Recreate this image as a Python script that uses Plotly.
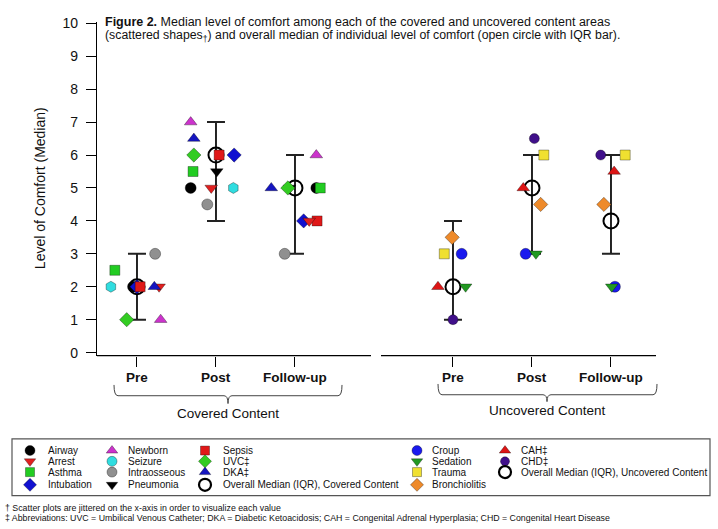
import plotly.graph_objects as go

# ---------------- DATA ----------------
# x positions are the jittered category positions (1,2,3 = covered Pre/Post/Follow-up;
# 5,6,7 = uncovered Pre/Post/Follow-up); y = median level of comfort
tick_vals = [1, 2, 3, 5, 6, 7]
tick_text = ["Pre", "Post", "Follow-up", "Pre", "Post", "Follow-up"]

# covered content areas
pneumonia_x = [1.00, 2.01, 2.93]
pneumonia_y = [2, 5.5, 5]
airway_x = [0.95, 1.68, 3.27]
airway_y = [2, 5, 5]
intubation_x = [1.00, 2.23, 3.11]
intubation_y = [2, 6, 4]
sepsis_x = [1.04, 2.04, 3.28]
sepsis_y = [2, 6, 4]
arrest_x = [1.28, 1.94, 3.18]
arrest_y = [2, 5, 4]
asthma_x = [0.72, 1.71, 3.32]
asthma_y = [2.5, 5.5, 5]
newborn_x = [1.30, 1.68, 3.27]
newborn_y = [1, 7, 6]
seizure_x = [0.67, 2.22]
seizure_y = [2, 5]
intraosseous_x = [1.23, 1.89, 2.87]
intraosseous_y = [3, 4.5, 3]
uvc_x = [0.87, 1.72, 2.91]
uvc_y = [1, 6, 5]
dka_x = [1.22, 1.72, 2.70]
dka_y = [2, 6.5, 5]

# uncovered content areas
croup_x = [5.11, 5.92, 7.05]
croup_y = [3, 3, 2]
sedation_x = [5.16, 6.05, 7.01]
sedation_y = [2, 3, 2]
trauma_x = [4.89, 6.15, 7.18]
trauma_y = [3, 6, 6]
bronchiolitis_x = [4.99, 6.11, 6.91]
bronchiolitis_y = [3.5, 4.5, 4.5]
cah_x = [4.81, 5.89, 7.04]
cah_y = [2, 5, 5.5]
chd_x = [5.00, 6.03, 6.87]
chd_y = [1, 6.5, 6]

# overall medians with IQR
cov_x = [1, 2, 3]
cov_median = [2, 6, 5]
cov_q1 = [1, 4, 3]
cov_q3 = [3, 7, 6]
unc_x = [5, 6, 7]
unc_median = [2, 5, 4]
unc_q1 = [1, 3, 3]
unc_q3 = [4, 6, 6]

# ---------------- STYLE / LAYOUT ----------------
W, H = 718, 529
PL, PR, PT, PB = 97, 656, 16, 357          # plot box in pixels
FONT = "Liberation Sans, Arial, sans-serif"
OUT = dict(color="rgba(0,0,0,0.55)", width=0.6)

def fx(p):  # pixel x -> paper
    return p / W

def fy(p):  # pixel y -> paper
    return 1 - p / H

series = [
    # name, x, y, symbol, color, size
    ("Pneumonia", pneumonia_x, pneumonia_y, "triangle-down", "#000000", 11),
    ("Airway", airway_x, airway_y, "circle", "#000000", 11),
    ("Intubation", intubation_x, intubation_y, "diamond", "#1010d0", 11),
    ("Sepsis", sepsis_x, sepsis_y, "square", "#e01818", 10),
    ("Arrest", arrest_x, arrest_y, "triangle-down", "#e02020", 11),
    ("Asthma", asthma_x, asthma_y, "square", "#22cc22", 10),
    ("Newborn", newborn_x, newborn_y, "triangle-up", "#cc33cc", 11),
    ("Seizure", seizure_x, seizure_y, "hexagon", "#30dde0", 11),
    ("Intraosseous", intraosseous_x, intraosseous_y, "circle", "#909090", 11),
    ("UVC‡", uvc_x, uvc_y, "diamond", "#33cc22", 11),
    ("DKA‡", dka_x, dka_y, "triangle-up", "#1515c0", 11),
    ("Croup", croup_x, croup_y, "circle", "#1a1aee", 11),
    ("Sedation", sedation_x, sedation_y, "triangle-down", "#229922", 11),
    ("Trauma", trauma_x, trauma_y, "square", "#f0e030", 10),
    ("Bronchiolitis", bronchiolitis_x, bronchiolitis_y, "diamond", "#ee8a2a", 11),
    ("CAH‡", cah_x, cah_y, "triangle-up", "#dd1515", 11),
    ("CHD‡", chd_x, chd_y, "circle", "#40108a", 10),
]

fig = go.Figure()

# overall medians with IQR bars (drawn first, scattered shapes on top)
for mx, med, q1, q3 in [(cov_x, cov_median, cov_q1, cov_q3), (unc_x, unc_median, unc_q1, unc_q3)]:
    fig.add_trace(go.Scatter(
        x=mx, y=med, mode="markers",
        marker=dict(symbol="circle-open", size=15, color="black", line=dict(width=2, color="black")),
        error_y=dict(type="data", symmetric=False,
                     array=[b - m for b, m in zip(q3, med)],
                     arrayminus=[m - a for m, a in zip(med, q1)],
                     color="#222222", thickness=2, width=9),
        showlegend=False, hoverinfo="skip"))

for name, xs, ys, sym, col, sz in series:
    fig.add_trace(go.Scatter(
        x=xs, y=ys, mode="markers", name=name,
        marker=dict(symbol=sym, size=sz, color=col, line=OUT),
        showlegend=False))

# ---------------- manual legend (grid of 5 columns) ----------------
col_mx = [30, 112, 205, 417, 505]
col_tx = [46, 126, 221, 430, 519]
row_y = [454, 465, 476, 489]
LEGFONT = dict(size=10, family=FONT, color="#111")
legend_layout = [
    (0, 0, "Airway"), (0, 1, "Arrest"), (0, 2, "Asthma"), (0, 3, "Intubation"),
    (1, 0, "Newborn"), (1, 1, "Seizure"), (1, 2, "Intraosseous"), (1, 3, "Pneumonia"),
    (2, 0, "Sepsis"), (2, 1, "UVC‡"), (2, 2, "DKA‡"),
    (3, 0, "Croup"), (3, 1, "Sedation"), (3, 2, "Trauma"), (3, 3, "Bronchiolitis"),
    (4, 0, "CAH‡"), (4, 1, "CHD‡"),
]
style = {s[0]: s for s in series}
annotations = []
for c, r, name in legend_layout:
    _, _, _, sym, col, sz = style[name]
    if name == "Seizure":
        sym = "circle"
    fig.add_trace(go.Scatter(
        x=[col_mx[c]], y=[row_y[r]], xaxis="x2", yaxis="y2", mode="markers",
        marker=dict(symbol=sym, size=sz - 1, color=col, line=OUT),
        showlegend=False, hoverinfo="skip"))
    annotations.append(dict(x=col_tx[c], y=row_y[r], xref="x2", yref="y2", text=name,
                            showarrow=False, xanchor="left", yanchor="middle", font=LEGFONT))
for c, r, name in [(2, 3, "Overall Median (IQR), Covered Content"),
                   (4, 2, "Overall Median (IQR), Uncovered Content")]:
    fig.add_trace(go.Scatter(
        x=[col_mx[c]], y=[row_y[r]], xaxis="x2", yaxis="y2", mode="markers",
        marker=dict(symbol="circle-open", size=12, color="black", line=dict(width=2.2, color="black")),
        showlegend=False, hoverinfo="skip"))
    annotations.append(dict(x=col_tx[c], y=row_y[r], xref="x2", yref="y2", text=name,
                            showarrow=False, xanchor="left", yanchor="middle", font=LEGFONT))

# ---------------- text annotations ----------------
def note(px, py, text, size, xanchor="center", angle=0):
    annotations.append(dict(x=fx(px), y=fy(py), xref="paper", yref="paper",
                            xanchor=xanchor, yanchor="middle", showarrow=False,
                            textangle=angle, text=text,
                            font=dict(size=size, family=FONT, color="#111")))

note(103, 16, "<b>Figure 2.</b> Median level of comfort among each of the covered and uncovered content areas",
     12.5, "left")
note(103, 31, "(scattered shapes<sub>†</sub>) and overall median of individual level of comfort (open circle with IQR bar).",
     12.3, "left")
note(40, 186, "Level of Comfort (Median)", 14, "center", -90)
note(228, 416, "Covered Content", 13.5)
note(547, 413, "Uncovered Content", 13.5)
note(3, 513, "† Scatter plots are jittered on the x-axis in order to visualize each value", 8.8, "left")
note(3, 523, "‡ Abbreviations: UVC = Umbilical Venous Catheter; DKA = Diabetic Ketoacidosis; "
             "CAH = Congenital Adrenal Hyperplasia; CHD = Congenital Heart Disease", 8.8, "left")

# x tick labels placed as annotations on the data axis
for v, t in zip(tick_vals, tick_text):
    annotations.append(dict(x=v, y=fy(379), xref="x", yref="paper", xanchor="center",
                            yanchor="middle", showarrow=False, text=f"<b>{t}</b>",
                            font=dict(size=13.5, family=FONT, color="#111")))

# ---------------- shapes: x-axis line with gap, braces, legend box ----------------
def brace(x0, xc, x1, ytop, ymid, ybot):
    r = 4
    p = (f"M {fx(x0)},{fy(ytop)} Q {fx(x0)},{fy(ymid)} {fx(x0 + r)},{fy(ymid)} "
         f"L {fx(xc - r)},{fy(ymid)} Q {fx(xc)},{fy(ymid)} {fx(xc)},{fy(ybot)} "
         f"Q {fx(xc)},{fy(ymid)} {fx(xc + r)},{fy(ymid)} "
         f"L {fx(x1 - r)},{fy(ymid)} Q {fx(x1)},{fy(ymid)} {fx(x1)},{fy(ytop)}")
    return dict(type="path", path=p, xref="paper", yref="paper",
                line=dict(color="#444", width=1))

shapes = [
    dict(type="line", xref="paper", yref="paper", x0=fx(PL), x1=fx(371), y0=fy(PB), y1=fy(PB),
         line=dict(color="black", width=1.2)),
    dict(type="line", xref="paper", yref="paper", x0=fx(381), x1=fx(PR), y0=fy(PB), y1=fy(PB),
         line=dict(color="black", width=1.2)),
    brace(114, 228, 342, 387, 398, 406),
    brace(438, 547, 657, 386, 397, 404),
    dict(type="rect", xref="paper", yref="paper", x0=fx(12), x1=fx(710), y0=fy(442), y1=fy(500),
         line=dict(color="#555", width=1.2)),
]

fig.update_layout(
    width=W, height=H, margin=dict(l=0, r=0, t=0, b=0),
    paper_bgcolor="white", plot_bgcolor="white",
    font=dict(family=FONT, color="#111"),
    showlegend=False,
    xaxis=dict(domain=[fx(PL), fx(PR)], range=[0.494, 7.57], tickvals=tick_vals,
               showticklabels=False, ticks="outside", ticklen=10,
               tickcolor="black", tickwidth=1, showline=False, showgrid=False, zeroline=False),
    yaxis=dict(domain=[fy(PB), fy(PT)], range=[-0.09, 10.05], tickvals=list(range(0, 11)),
               ticks="outside", ticklen=10, tickcolor="black", showline=True, linecolor="black",
               linewidth=1.2, showgrid=False, zeroline=False, ticklabelstandoff=5,
               tickfont=dict(size=14, family=FONT, color="#111")),
    xaxis2=dict(domain=[0, 1], range=[0, W], visible=False, anchor="y2"),
    yaxis2=dict(domain=[0, fy(430)], range=[H, 430], visible=False, anchor="x2"),
    annotations=annotations,
    shapes=shapes,
)

fig.write_html("out.html", config={"displayModeBar": False},
               post_script="document.body.style.margin='0';document.body.style.overflow='hidden';")
